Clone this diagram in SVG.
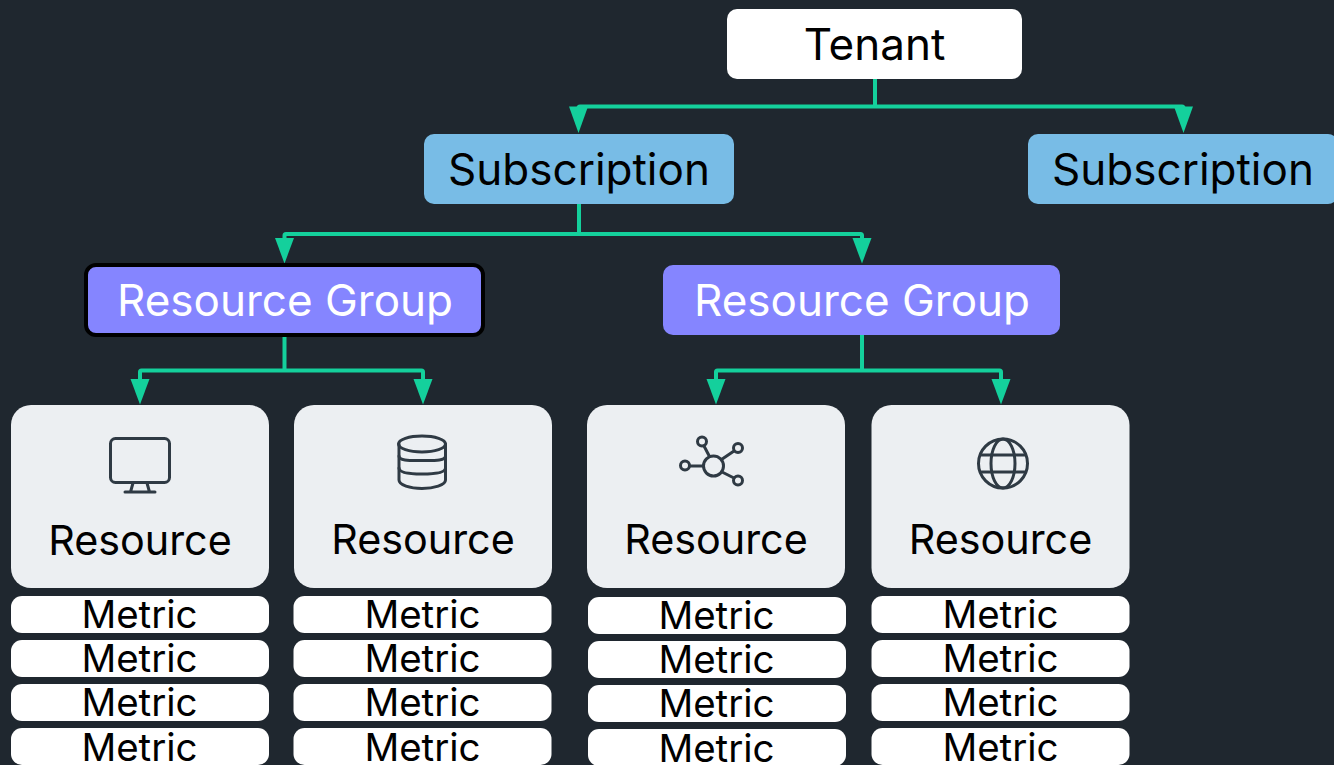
<svg xmlns="http://www.w3.org/2000/svg" width="1334" height="765" viewBox="0 0 1334 765">
<defs>
<style>
text{font-family:Inter,"Noto Sans",sans-serif;text-anchor:middle;fill:#000}
.big{font-size:44px}
.res{font-size:41.300px}
.met{font-size:38.500px}
.white{fill:#fff}
.conn{fill:none;stroke:#14d09c;stroke-width:4}
.head{fill:#14d09c}
.ic{fill:none;stroke:#2f3a44;stroke-width:3;stroke-linecap:round;stroke-linejoin:round}
.rb{fill:#eceff2}
.mb{fill:#fff}
</style>
</defs>
<rect width="1334" height="765" fill="#1f272f"/>
<g id="connectors">
<path class="conn" d="M875 79V106.500H580Q578.500 106.500 578.500 108V112M875 106.500H1182Q1183.500 106.500 1183.500 108V112"/>
<polygon class="head" points="569,106.500 588,106.500 578.500,133"/>
<polygon class="head" points="1174,106.500 1193,106.500 1183.500,133"/>
<path class="conn" d="M579 204V234H286Q284.500 234 284.500 235.500V240M579 234H860.500Q862 234 862 235.500V240"/>
<polygon class="head" points="275,238 294,238 284.500,263.500"/>
<polygon class="head" points="852.500,238 871.500,238 862,263.500"/>
<path class="conn" d="M284.500 337V370.500H141.500Q140 370.500 140 372V382M284.500 370.500H421.500Q423 370.500 423 372V382"/>
<polygon class="head" points="130.500,379 149.500,379 140,404.500"/>
<polygon class="head" points="413.500,379 432.500,379 423,404.500"/>
<path class="conn" d="M862 335V370.500H717.500Q716 370.500 716 372V382M862 370.500H999.500Q1001 370.500 1001 372V382"/>
<polygon class="head" points="706.500,379 725.500,379 716,404.500"/>
<polygon class="head" points="991.500,379 1010.500,379 1001,404.500"/>
</g>
<g id="tenant"><rect x="727" y="9" width="295" height="70" rx="10" fill="#fff"/><text class="big" x="874.500" y="60">Tenant</text></g>
<g id="subscription-1"><rect x="424" y="134" width="310" height="70" rx="10" fill="#78bce6"/><text class="big" x="579" y="185">Subscription</text></g>
<g id="subscription-2"><rect x="1028" y="134" width="310" height="70" rx="10" fill="#78bce6"/><text class="big" x="1183" y="185">Subscription</text></g>
<g id="resource-group-1"><rect x="86" y="265" width="397" height="70" rx="10" fill="#8585ff" stroke="#000" stroke-width="4"/><text class="big white" x="285" y="316">Resource Group</text></g>
<g id="resource-group-2"><rect x="663" y="265" width="397" height="70" rx="10" fill="#8585ff"/><text class="big white" x="862" y="316">Resource Group</text></g>
<g id="resource-1"><rect class="rb" x="11" y="405" width="258" height="183" rx="20"/>
<g class="ic"><rect x="110.500" y="438.500" width="59" height="44" rx="5"/><path d="M125 492H155M133 483L130.500 492M147 483L149.500 492"/></g>
<text class="res" x="140" y="555">Resource</text></g>
<g id="resource-2"><rect class="rb" x="294" y="405" width="258" height="183" rx="20"/>
<g class="ic"><path d="M399 444V480C399 485 410 488.500 422 488.500S445.500 485 445.500 480V444"/><ellipse cx="422" cy="444" rx="23.500" ry="8"/><path d="M399 456C399 461 410 460.500 422 460.500S445.500 461 445.500 456M399 468C399 473 410 474 422 474S445.500 473 445.500 468"/></g>
<text class="res" x="423" y="554">Resource</text></g>
<g id="resource-3"><rect class="rb" x="587" y="405" width="258" height="183" rx="20"/>
<g class="ic"><circle cx="713.500" cy="466" r="10"/><circle cx="702" cy="441.500" r="4.500"/><circle cx="738" cy="448" r="4.500"/><circle cx="685" cy="465.500" r="4.500"/><circle cx="738" cy="480.500" r="4.500"/><path d="M709.500 456.500L704 446M721.500 459.500L734 451M703.500 466H689.500M722 472L734 478"/></g>
<text class="res" x="716" y="554">Resource</text></g>
<g id="resource-4"><rect class="rb" x="871.500" y="405" width="258" height="183" rx="20"/>
<g class="ic"><circle cx="1003" cy="463.500" r="24.500"/><ellipse cx="1003" cy="463.500" rx="12" ry="24.500"/><path d="M981.500 455H1024.500M981.500 472H1024.500"/></g>
<text class="res" x="1000.500" y="554">Resource</text></g>
<g id="metrics-1">
<rect class="mb" x="11" y="596" width="258" height="37" rx="11"/><text class="met" x="139.500" y="628">Metric</text>
<rect class="mb" x="11" y="640" width="258" height="37" rx="11"/><text class="met" x="139.500" y="672">Metric</text>
<rect class="mb" x="11" y="684" width="258" height="37" rx="11"/><text class="met" x="139.500" y="716">Metric</text>
<rect class="mb" x="11" y="728" width="258" height="37" rx="11"/><text class="met" x="139.500" y="761">Metric</text>
</g>
<g id="metrics-2">
<rect class="mb" x="293.500" y="596" width="258" height="37" rx="11"/><text class="met" x="422.500" y="628">Metric</text>
<rect class="mb" x="293.500" y="640" width="258" height="37" rx="11"/><text class="met" x="422.500" y="672">Metric</text>
<rect class="mb" x="293.500" y="684" width="258" height="37" rx="11"/><text class="met" x="422.500" y="716">Metric</text>
<rect class="mb" x="293.500" y="728" width="258" height="37" rx="11"/><text class="met" x="422.500" y="761">Metric</text>
</g>
<g id="metrics-3">
<rect class="mb" x="588" y="597" width="258" height="37" rx="11"/><text class="met" x="716.500" y="629">Metric</text>
<rect class="mb" x="588" y="641" width="258" height="37" rx="11"/><text class="met" x="716.500" y="673">Metric</text>
<rect class="mb" x="588" y="685" width="258" height="37" rx="11"/><text class="met" x="716.500" y="717">Metric</text>
<rect class="mb" x="588" y="729" width="258" height="37" rx="11"/><text class="met" x="716.500" y="762">Metric</text>
</g>
<g id="metrics-4">
<rect class="mb" x="871.500" y="596" width="258" height="37" rx="11"/><text class="met" x="1000.500" y="628">Metric</text>
<rect class="mb" x="871.500" y="640" width="258" height="37" rx="11"/><text class="met" x="1000.500" y="672">Metric</text>
<rect class="mb" x="871.500" y="684" width="258" height="37" rx="11"/><text class="met" x="1000.500" y="716">Metric</text>
<rect class="mb" x="871.500" y="728" width="258" height="37" rx="11"/><text class="met" x="1000.500" y="761">Metric</text>
</g>
</svg>
